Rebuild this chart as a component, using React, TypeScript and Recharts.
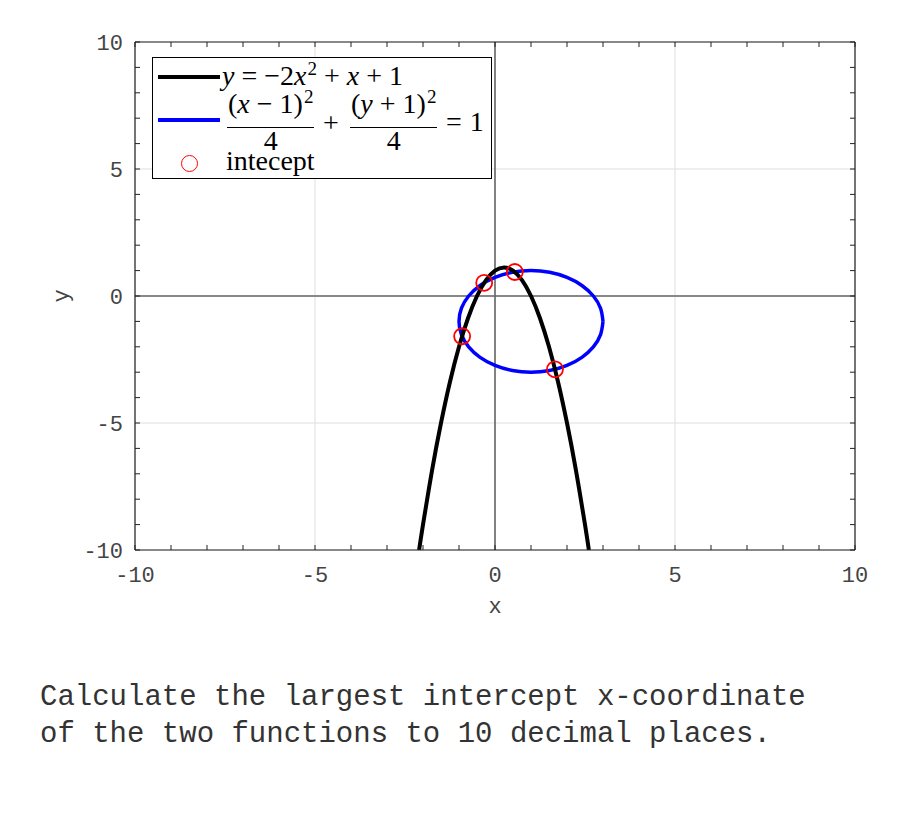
import React from 'react';
import {
  ComposedChart,
  Line,
  Scatter,
  XAxis,
  YAxis,
  CartesianGrid,
  ReferenceLine,
} from 'recharts';

// y = -2x^2 + x + 1
const parabolaX = [-2.108, -2, -1.75, -1.5, -1.25, -1, -0.75, -0.5, -0.25, 0, 0.25, 0.5, 0.75, 1, 1.25, 1.5, 1.75, 2, 2.25, 2.5, 2.608];
const parabolaY = [-10, -9, -6.875, -5, -3.375, -2, -0.875, 0, 0.625, 1, 1.125, 1, 0.625, 0, -0.875, -2, -3.375, -5, -6.875, -9, -10];

// (x-1)^2/4 + (y+1)^2/4 = 1, points read around the blue loop
const circleX = [3, 2.932, 2.732, 2.414, 2, 1.518, 1, 0.482, 0, -0.414, -0.732, -0.932, -1, -0.932, -0.732, -0.414, 0, 0.482, 1, 1.518, 2, 2.414, 2.732, 2.932, 3];
const circleY = [-1, -0.482, 0, 0.414, 0.732, 0.932, 1, 0.932, 0.732, 0.414, 0, -0.482, -1, -1.518, -2, -2.414, -2.732, -2.932, -3, -2.932, -2.732, -2.414, -2, -1.518, -1];

// the four red markers
const interceptX = [-0.913, -0.3, 0.55, 1.666];
const interceptY = [-1.585, 0.52, 0.945, -2.885];

const majorTicks = [-10, -5, 0, 5, 10];
const minorTicks = [-10, -9, -8, -7, -6, -5, -4, -3, -2, -1, 0, 1, 2, 3, 4, 5, 6, 7, 8, 9, 10];

const parabola = parabolaX.map((x, i) => ({ x, y: parabolaY[i] }));
const circle = circleX.map((x, i) => ({ x, y: circleY[i] }));
const intercepts = interceptX.map((x, i) => ({ x, y: interceptY[i] }));

const MONO = '"Liberation Mono", "DejaVu Sans Mono", monospace';
const SERIF = '"Liberation Serif", "DejaVu Serif", serif';
const tickStyle = { fontFamily: MONO, fontSize: 22, fill: '#444' };
const frame = '#222';
const noLabel = () => <g />;

const Sup = ({ children }: { children: React.ReactNode }) => (
  <span style={{ fontSize: '0.68em', position: 'relative', top: '-0.5em', fontStyle: 'normal', marginLeft: 1 }}>{children}</span>
);
const I = ({ children }: { children: React.ReactNode }) => <i>{children}</i>;
const Op = ({ children }: { children: React.ReactNode }) => <span style={{ margin: '0 7px' }}>{children}</span>;

const LegendBox = () => {
  const txt: React.CSSProperties = { position: 'absolute', fontFamily: SERIF, fontSize: 28, lineHeight: '20px', whiteSpace: 'nowrap', color: '#000' };
  const frac = (num: React.ReactNode, left: number) => (
    <div style={{ position: 'absolute', left, top: 36, display: 'flex', flexDirection: 'column', alignItems: 'center', fontFamily: SERIF, fontSize: 28, lineHeight: '20px' }}>
      <span style={{ whiteSpace: 'nowrap', padding: '0 1px 10px' }}>{num}</span>
      <span style={{ alignSelf: 'stretch', height: 1.3, background: '#000' }} />
      <span style={{ marginTop: 3 }}>4</span>
    </div>
  );
  return (
    <div style={{ position: 'absolute', left: 144, top: 49, width: 340, height: 122, border: '1px solid #000', background: '#fff', boxSizing: 'border-box' }}>
      <div style={{ position: 'absolute', left: 5, top: 17, width: 62, height: 4, background: '#000' }} />
      <div style={{ ...txt, left: 69, top: 8 }}>
        <I>y</I><Op>=</Op>−2<I>x</I><Sup>2</Sup><Op>+</Op><I>x</I><Op>+</Op>1
      </div>
      <div style={{ position: 'absolute', left: 5, top: 60, width: 62, height: 4, background: '#0000ff' }} />
      {frac(<>(<I>x</I><Op>−</Op>1)<Sup>2</Sup></>, 74)}
      <div style={{ ...txt, left: 170, top: 55 }}>+</div>
      {frac(<>(<I>y</I><Op>+</Op>1)<Sup>2</Sup></>, 197)}
      <div style={{ ...txt, left: 293, top: 54 }}>=<span style={{ marginLeft: 8 }}>1</span></div>
      <div style={{ position: 'absolute', left: 28, top: 97, width: 17, height: 17, borderRadius: '50%', border: '1.8px solid #ff0000', boxSizing: 'border-box' }} />
      <div style={{ ...txt, left: 73, top: 93 }}>intecept</div>
    </div>
  );
};

const App: React.FC = () => {
  return (
    <div style={{ position: 'relative', width: 884, height: 809, background: '#fff' }}>
      <ComposedChart width={884} height={640} margin={{ top: 34, right: 37, bottom: 28, left: 0 }}>
        <CartesianGrid xAxisId="b" yAxisId="l" stroke="#dedede" strokeWidth={1} />
        <XAxis
          xAxisId="b"
          type="number"
          dataKey="x"
          domain={[-10, 10]}
          ticks={majorTicks}
          allowDataOverflow
          height={70}
          tickLine={false}
          tickSize={0}
          tickMargin={16}
          axisLine={{ stroke: frame, strokeWidth: 1.2 }}
          tick={tickStyle}
          label={(p: any) => (
            <text x={p.viewBox.x + p.viewBox.width / 2} y={p.viewBox.y + 57} textAnchor="middle" dominantBaseline="central" style={tickStyle}>
              x
            </text>
          )}
        />
        <XAxis xAxisId="bm" type="number" dataKey="x" domain={[-10, 10]} ticks={minorTicks} allowDataOverflow mirror height={1} tickSize={5} tick={noLabel} axisLine={false} tickLine={{ stroke: frame }} />
        <XAxis xAxisId="tm" type="number" dataKey="x" orientation="top" domain={[-10, 10]} ticks={minorTicks} allowDataOverflow mirror height={1} tickSize={5} tick={noLabel} axisLine={{ stroke: frame, strokeWidth: 1.2 }} tickLine={{ stroke: frame }} />
        <YAxis
          yAxisId="l"
          type="number"
          dataKey="y"
          domain={[-10, 10]}
          ticks={majorTicks}
          allowDataOverflow
          width={127}
          tickLine={false}
          tickSize={0}
          tickMargin={12}
          axisLine={{ stroke: frame, strokeWidth: 1.2 }}
          tick={tickStyle}
          label={(p: any) => (
            <text
              x={p.viewBox.x + 54}
              y={p.viewBox.y + p.viewBox.height / 2}
              textAnchor="middle"
              dominantBaseline="central"
              transform={`rotate(-90 ${p.viewBox.x + 54} ${p.viewBox.y + p.viewBox.height / 2})`}
              style={tickStyle}
            >
              y
            </text>
          )}
        />
        <YAxis yAxisId="lm" type="number" dataKey="y" domain={[-10, 10]} ticks={minorTicks} allowDataOverflow mirror width={1} tickSize={5} tick={noLabel} axisLine={false} tickLine={{ stroke: frame }} />
        <YAxis yAxisId="rm" type="number" dataKey="y" orientation="right" domain={[-10, 10]} ticks={minorTicks} allowDataOverflow mirror width={1} tickSize={5} tick={noLabel} axisLine={{ stroke: frame, strokeWidth: 1.2 }} tickLine={{ stroke: frame }} />
        <ReferenceLine xAxisId="b" yAxisId="l" x={0} stroke="#666" strokeWidth={1.6} />
        <ReferenceLine xAxisId="b" yAxisId="l" y={0} stroke="#666" strokeWidth={1.6} />
        <Line xAxisId="b" yAxisId="l" data={circle} dataKey="y" type="natural" stroke="#0000ff" strokeWidth={3.5} dot={false} isAnimationActive={false} />
        <Line xAxisId="b" yAxisId="l" data={parabola} dataKey="y" type="natural" stroke="#000" strokeWidth={4} dot={false} isAnimationActive={false} />
        <Scatter
          xAxisId="b"
          yAxisId="l"
          data={intercepts}
          dataKey="y"
          isAnimationActive={false}
          shape={(p: any) => <circle cx={p.cx} cy={p.cy} r={8} fill="none" stroke="#ff0000" strokeWidth={1.8} />}
        />
      </ComposedChart>
      <LegendBox />
      <div style={{ position: 'absolute', left: 32, top: 671, fontFamily: MONO, fontSize: 29, lineHeight: '37px', color: '#333', whiteSpace: 'pre' }}>
        {'Calculate the largest intercept x-coordinate\nof the two functions to 10 decimal places.'}
      </div>
    </div>
  );
};

export default App;
